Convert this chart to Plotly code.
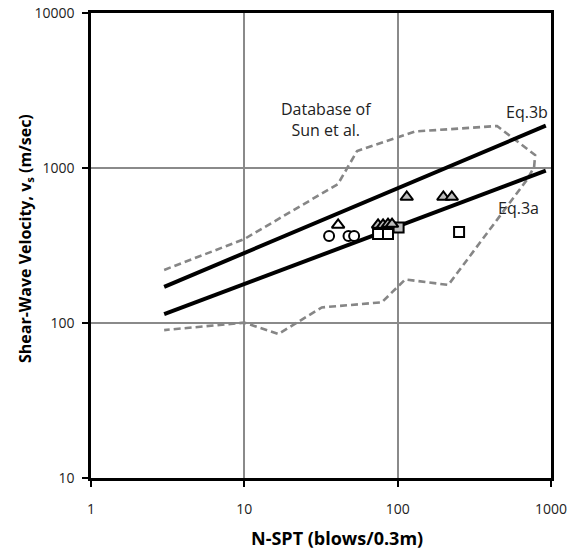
import plotly.graph_objects as go

# ---- data ----
eq3b_n = [3, 925]
eq3b_vs = [171, 1875]
eq3a_n = [3, 925]
eq3a_vs = [114, 961]

env_n = [3, 10, 40.8, 54.4, 130, 445, 788, 776, 695, 214, 112, 78.8, 32, 16.7, 10, 3]
env_vs = [220, 348, 788, 1288, 1720, 1866, 1213, 1015, 837, 176, 191, 136, 126, 85, 100.5, 90]

circ_n = [35.7, 47.8, 52]
circ_vs = [364, 364, 364]

tri_open_n = [40.9]
tri_open_vs = [429]

tri_gray_n = [74.5, 80.3, 86.5, 91.9, 114.6, 198.6, 225.4]
tri_gray_vs = [429, 429, 435, 435, 650, 650, 650]

sq_open_n = [74.5, 86.5, 251.5]
sq_open_vs = [375, 375, 386]

sq_gray_n = [101.4]
sq_gray_vs = [413]

x_ticks = [1, 10, 100, 1000]
y_ticks = [10, 100, 1000, 10000]

FONT = "Open Sans"

fig = go.Figure()

fig.add_trace(go.Scatter(x=env_n, y=env_vs, mode="lines",
                         line=dict(color="#868686", width=2.6, dash="7px,4px"),
                         showlegend=False, hoverinfo="skip"))
fig.add_trace(go.Scatter(x=eq3b_n, y=eq3b_vs, mode="lines",
                         line=dict(color="black", width=4), showlegend=False))
fig.add_trace(go.Scatter(x=eq3a_n, y=eq3a_vs, mode="lines",
                         line=dict(color="black", width=4), showlegend=False))

fig.add_trace(go.Scatter(x=circ_n, y=circ_vs, mode="markers",
                         marker=dict(symbol="circle", size=10, color="white",
                                     line=dict(color="black", width=2)),
                         showlegend=False))
fig.add_trace(go.Scatter(x=sq_open_n, y=sq_open_vs, mode="markers",
                         marker=dict(symbol="square", size=10, color="white",
                                     line=dict(color="black", width=2)),
                         showlegend=False))
fig.add_trace(go.Scatter(x=sq_gray_n, y=sq_gray_vs, mode="markers",
                         marker=dict(symbol="square", size=10, color="#bdbdbd",
                                     line=dict(color="black", width=2)),
                         showlegend=False))
fig.add_trace(go.Scatter(x=tri_open_n, y=tri_open_vs, mode="markers",
                         marker=dict(symbol="triangle-up", size=11, color="white",
                                     line=dict(color="black", width=2)),
                         showlegend=False))
fig.add_trace(go.Scatter(x=tri_gray_n, y=tri_gray_vs, mode="markers",
                         marker=dict(symbol="triangle-up", size=11, color="#bdbdbd",
                                     line=dict(color="black", width=2)),
                         showlegend=False))

axis_common = dict(
    type="log", showline=True, linecolor="black", linewidth=2.5, mirror=True,
    showgrid=True, gridcolor="#8a8a8a", gridwidth=2,
    ticks="outside", ticklen=6, tickwidth=2, tickcolor="black",
    tickfont=dict(family=FONT, size=14, color="#222222"), zeroline=False,
    automargin=False,
)

fig.update_xaxes(**axis_common, range=[0, 3],
                 tickvals=x_ticks, ticktext=[str(v) for v in x_ticks],
                 ticklabelstandoff=10)
fig.update_yaxes(**axis_common, range=[1, 4],
                 tickvals=y_ticks, ticktext=[str(v) for v in y_ticks],
                 ticklabelstandoff=5)

title_font_x = dict(family=FONT, size=18, color="black")
title_font_y = dict(family=FONT, size=16, color="black")
fig.add_annotation(x=0.535, y=-0.129, xref="paper", yref="paper",
                   text="<b>N-SPT (blows/0.3m)</b>", showarrow=False,
                   font=title_font_x, xanchor="center", yanchor="middle")
fig.add_annotation(x=-0.1435, y=0.516, xref="paper", yref="paper",
                   text="<b>Shear-Wave Velocity, v<sub>s</sub> (m/sec)</b>",
                   showarrow=False, font=title_font_y, textangle=-90,
                   xanchor="center", yanchor="middle")

ann_font = dict(family=FONT, size=16, color="#222222")
fig.add_annotation(x=0.513, y=0.770, xref="paper", yref="paper",
                   text="Database of<br>Sun et al.", showarrow=False, font=ann_font,
                   xanchor="center", yanchor="middle")
fig.add_annotation(x=0.947, y=0.788, xref="paper", yref="paper",
                   text="Eq.3b", showarrow=False, font=ann_font,
                   xanchor="center", yanchor="middle")
fig.add_annotation(x=0.929, y=0.580, xref="paper", yref="paper",
                   text="Eq.3a", showarrow=False, font=ann_font,
                   xanchor="center", yanchor="middle")

fig.update_layout(
    width=570, height=553,
    margin=dict(l=91, r=19, t=13, b=75),
    paper_bgcolor="white", plot_bgcolor="white",
    showlegend=False,
)

fig.write_html("out.html", config={"displayModeBar": False},
               post_script="document.body.style.margin='0';document.body.style.overflow='hidden';")
